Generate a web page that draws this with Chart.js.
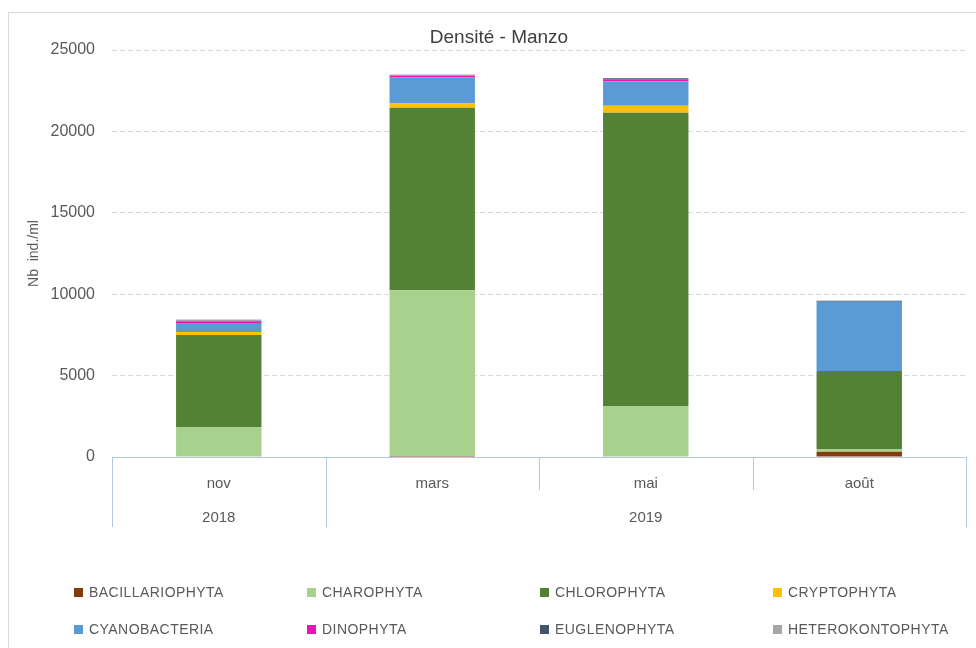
<!DOCTYPE html>
<html lang="fr">
<head>
  <meta charset="UTF-8" />
  <title>Densité - Manzo</title>
  <script src="https://cdn.jsdelivr.net/npm/chart.js"></script>
  <style>
    body { margin: 0; background: #fff; overflow: hidden; }
    #wrap { position: relative; width: 976px; height: 648px; }
    #frame { position: absolute; left: 8px; top: 12px; width: 1000px; height: 700px; border: 1px solid #d9d9d9; box-sizing: border-box; pointer-events: none; }
    #legend { position: absolute; left: 74px; top: 583px; display: grid; grid-template-columns: repeat(4, 233px); row-gap: 19px;
              font-family: "Liberation Sans", Arial, sans-serif; font-size: 14px; letter-spacing: 0.45px; color: #595959; }
    #legend div { display: flex; align-items: center; height: 18px; }
    #legend span.box { display: inline-block; width: 9px; height: 9px; margin-right: 6px; }
  </style>
</head>
<body>
  <div id="wrap">
    <canvas id="chart" width="976" height="648"></canvas>
    <div id="frame"></div>
    <div id="legend"></div>
  </div>

  <script>
    // categories and year groups
    const months = ['nov', 'mars', 'mai', 'août'];
    const years = ['2018', '2019'];
    const yearSpans = [1, 3];

    // densities (ind./ml)
    const bacillariophyta = [0, 60, 0, 320];
    const charophyta = [1840, 10190, 3130, 170];
    const chlorophyta = [5650, 11200, 18010, 4790];
    const cryptophyta = [185, 270, 430, 0];
    const cyanobacteria = [550, 1590, 1500, 4255];
    const dinophyta = [120, 100, 140, 0];
    const euglenophyta = [0, 0, 60, 60];
    const heterokontophyta = [100, 90, 0, 0];

    const yTicks = [0, 5000, 10000, 15000, 20000, 25000];

    const series = [
      { label: 'BACILLARIOPHYTA', data: bacillariophyta, color: '#843C0C' },
      { label: 'CHAROPHYTA', data: charophyta, color: '#A9D18E' },
      { label: 'CHLOROPHYTA', data: chlorophyta, color: '#548235' },
      { label: 'CRYPTOPHYTA', data: cryptophyta, color: '#FFC000' },
      { label: 'CYANOBACTERIA', data: cyanobacteria, color: '#5B9BD5' },
      { label: 'DINOPHYTA', data: dinophyta, color: '#E617B5' },
      { label: 'EUGLENOPHYTA', data: euglenophyta, color: '#44546A' },
      { label: 'HETEROKONTOPHYTA', data: heterokontophyta, color: '#A5A5A5' }
    ];

    const font = '"Liberation Sans", Arial, sans-serif';
    const axisBlue = '#b4c7e7';

    // title + multi-level category separators and year row
    const extras = {
      id: 'extras',
      afterDraw(chart) {
        const ctx = chart.ctx;
        const x = chart.scales.x;
        const step = x.getPixelForValue(1) - x.getPixelForValue(0);
        const edge = i => x.getPixelForValue(0) - step / 2 + i * step;
        const y0 = x.top;
        ctx.save();
        ctx.strokeStyle = axisBlue;
        ctx.lineWidth = 1;
        for (let i = 0; i <= months.length; i++) {
          const px = Math.round(edge(i)) + 0.5;
          ctx.beginPath();
          ctx.moveTo(px, y0);
          ctx.lineTo(px, y0 + 33);
          ctx.stroke();
        }
        let start = 0;
        ctx.fillStyle = '#595959';
        ctx.font = '15px ' + font;
        ctx.textAlign = 'center';
        ctx.textBaseline = 'middle';
        const bounds = [0];
        yearSpans.forEach((span, k) => {
          const mid = (edge(start) + edge(start + span)) / 2;
          ctx.fillText(years[k], mid, y0 + 61);
          start += span;
          bounds.push(start);
        });
        bounds.forEach(i => {
          const px = Math.round(edge(i)) + 0.5;
          ctx.beginPath();
          ctx.moveTo(px, y0 + 33);
          ctx.lineTo(px, y0 + 70);
          ctx.stroke();
        });
        ctx.fillStyle = '#404040';
        ctx.font = '19px ' + font;
        ctx.fillText('Densité - Manzo', 499, 38);
        ctx.restore();
      }
    };

    new Chart(document.getElementById('chart'), {
      type: 'bar',
      data: {
        labels: months,
        datasets: series.map(s => ({
          label: s.label,
          data: s.data,
          backgroundColor: s.color,
          borderWidth: 0,
          barPercentage: 0.4,
          categoryPercentage: 1
        }))
      },
      options: {
        responsive: false,
        animation: false,
        layout: { padding: { top: 50, right: 10, bottom: 121, left: 0 } },
        plugins: { legend: { display: false }, title: { display: false }, tooltip: { enabled: false } },
        scales: {
          x: {
            stacked: true,
            afterFit: s => { s.height = 70; },
            grid: { display: false },
            border: { display: true, color: axisBlue, width: 1 },
            ticks: { color: '#595959', font: { family: font, size: 15 }, padding: 10, maxRotation: 0 }
          },
          y: {
            stacked: true,
            min: 0,
            max: 25000,
            afterFit: s => { s.width = 112; },
            afterBuildTicks: s => { s.ticks = yTicks.map(v => ({ value: v })); },
            grid: { color: '#d9d9d9', drawTicks: false },
            border: { display: false, dash: [5, 3] },
            ticks: { color: '#595959', font: { family: font, size: 16 }, padding: 17, callback: v => String(v) },
            title: { display: true, text: 'Nb  ind./ml', color: '#595959', font: { family: font, size: 14 }, padding: { top: 26, bottom: 0 } }
          }
        }
      },
      plugins: [extras]
    });

    // legend in 4 columns, 2 rows
    const legend = document.getElementById('legend');
    series.forEach(s => {
      const item = document.createElement('div');
      item.innerHTML = '<span class="box" style="background:' + s.color + '"></span>' + s.label;
      legend.appendChild(item);
    });
  </script>
</body>
</html>
